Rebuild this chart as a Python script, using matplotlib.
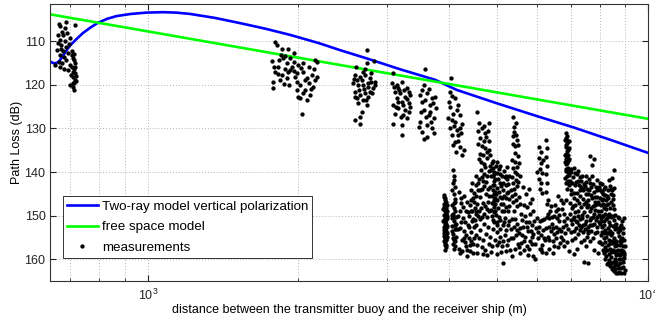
import numpy as np
import matplotlib
matplotlib.use('Agg')
import matplotlib.pyplot as plt
from matplotlib.ticker import LogLocator, NullFormatter, FixedLocator

plt.rcParams['font.family'] = ['Liberation Sans', 'DejaVu Sans']
plt.rcParams['mathtext.default'] = 'regular'
plt.rcParams['font.size'] = 9

# two-ray model (vertical polarization)
tworay_d = [638, 645, 652, 660, 668, 676, 687, 698, 719, 741, 768, 795, 830, 865, 925,
            993, 1072, 1140, 1214, 1360, 1528, 1720, 1925, 2200, 2424, 2742, 3200, 3757,
            4147, 5000, 6000, 7107, 8500, 10000]
tworay_pl = [114.7, 115.0, 115.1, 114.9, 114.3, 113.4, 112.2, 111.1, 109.6, 108.2, 106.9,
             105.8, 104.9, 104.3, 103.8, 103.5, 103.4, 103.5, 103.8, 104.7, 105.9, 107.2,
             108.6, 110.5, 112.1, 114.0, 116.5, 118.9, 121.2, 124.3, 127.2, 129.8, 132.8, 135.6]

# free space model
free_d = [638, 10000]
free_pl = [103.9, 127.8]

# measurements, lists of (distance m, path loss dB) per group of points
meas_650 = [(664, 106.1), (668, 106.6), (686, 105.6), (683, 107.1), (715, 106.3), (674, 107.9),
            (661, 108.6), (676, 108.6), (690, 108.2), (666, 109.8), (698, 109.4), (661, 110.5),
            (671, 110.9), (686, 111.3), (695, 110.7), (658, 112.1), (676, 112.4), (666, 113.2),
            (681, 113.6), (692, 112.8), (663, 114.7), (674, 115.1), (686, 114.4), (698, 115.5),
            (651, 115.5), (666, 115.9), (681, 116.3), (692, 116.6), (704, 113.2), (707, 114.0),
            (712, 114.4), (715, 115.1), (704, 115.9), (712, 116.3), (707, 117.0), (715, 117.4),
            (709, 118.2), (714, 118.9), (707, 119.7), (700, 120.1), (712, 121.1), (717, 118.0),
            (701, 117.8), (710, 113.0), (716, 116.0), (713, 119.5), (708, 120.5), (717, 119.2),
            (705, 112.2), (683, 110.0), (670, 111.8)]

meas_2000 = [(1796, 110.2), (1810, 110.8), (1852, 111.8), (1902, 111.8), (1955, 112.8), (1768, 114.6),
             (1832, 114.4), (1866, 114.0), (1926, 113.8), (1896, 115.1), (1824, 115.9), (1955, 114.7),
             (2000, 115.5), (2047, 115.1), (2095, 115.9), (2160, 114.4), (2178, 114.7), (1796, 117.0),
             (1852, 117.8), (1926, 116.6), (1986, 117.4), (2047, 117.0), (2128, 117.8), (1781, 119.3),
             (1838, 118.9), (1896, 118.5), (1986, 119.3), (2016, 120.1), (2095, 119.7), (2160, 118.9),
             (1781, 120.8), (2063, 121.2), (2111, 122.4), (2000, 122.8), (2016, 123.1), (2032, 126.6),
             (2178, 118.2), (1940, 115.9), (1881, 116.3), (2079, 118.5), (2143, 120.5), (2047, 122.0),
             (1971, 118.2), (1819, 117.6), (1911, 120.1), (1845, 113.2), (1880, 113.5), (2020, 116.2),
             (2060, 119.0), (2120, 121.0), (1905, 117.2), (1960, 116.8), (2150, 116.5), (1790, 116.0),
             (2085, 123.5), (1990, 121.3), (1870, 119.8)]

meas_2700 = [(2736, 112.1), (2714, 116.3), (2736, 115.1), (2826, 114.6), (2606, 115.9), (2594, 117.8),
             (2654, 118.2), (2714, 117.8), (2776, 118.5), (2839, 119.3), (2573, 119.7), (2634, 120.1),
             (2694, 120.1), (2755, 120.5), (2818, 120.8), (2594, 121.6), (2654, 122.4), (2714, 122.0),
             (2776, 121.6), (2614, 123.1), (2694, 123.5), (2755, 122.8), (2634, 124.3), (2736, 124.7),
             (2675, 126.2), (2654, 127.3), (2594, 128.1), (2654, 128.9), (2798, 119.3), (2675, 118.9),
             (2582, 118.7), (2798, 117.4), (2839, 120.1), (2620, 119.0), (2700, 121.0), (2760, 119.6),
             (2640, 121.2), (2805, 121.8), (2690, 117.0), (2590, 122.8), (2725, 123.6)]

meas_3200 = [(3098, 117.4), (3075, 119.7), (3147, 120.1), (3220, 119.3), (3295, 120.8), (3346, 122.4),
             (3122, 121.6), (3195, 122.0), (3269, 122.8), (3147, 123.1), (3220, 123.9), (3320, 124.3),
             (3098, 124.7), (3170, 125.4), (3269, 125.8), (3346, 125.0), (3122, 126.6), (3244, 126.9),
             (3295, 127.7), (3089, 128.9), (3220, 129.2), (3229, 131.5), (3320, 121.6), (3170, 120.8),
             (3244, 124.7), (3110, 120.5), (3180, 121.3), (3250, 121.2), (3300, 123.2), (3140, 125.0),
             (3200, 127.3), (3330, 126.3), (3160, 123.9)]

meas_3600 = [(3588, 116.4), (3560, 120.1), (3506, 122.4), (3617, 122.0), (3702, 123.1), (3534, 123.9),
             (3673, 124.7), (3760, 125.4), (3560, 125.8), (3644, 126.9), (3730, 127.7), (3506, 128.5),
             (3617, 129.2), (3702, 130.0), (3534, 130.8), (3617, 131.9), (3478, 129.6), (3730, 131.1),
             (3588, 123.5), (3673, 126.2), (3540, 121.3), (3650, 121.0), (3720, 124.3), (3590, 127.5),
             (3680, 128.5), (3520, 126.3), (3750, 122.8), (3570, 132.4)]

meas_4100 = [(4032, 118.5), (4019, 121.6), (4115, 123.1), (4178, 124.7), (4019, 125.0), (4082, 126.6),
             (4211, 126.9), (3988, 127.7), (4115, 128.5), (4244, 128.9), (4019, 130.0), (4147, 130.4),
             (4052, 131.5), (4178, 131.5), (4115, 133.1), (4211, 134.2), (4082, 133.8), (4277, 135.0),
             (4060, 122.5), (4150, 125.8), (4000, 124.0), (4090, 129.5), (4230, 131.0), (4170, 133.0),
             (4250, 136.0), (4060, 128.0), (4200, 129.8), (4130, 135.5)]

meas_far_left = [
    (3905, 145.8), (3920, 146.5), (3935, 147.2), (3915, 148.0), (3930, 148.6), (3945, 149.3),
    (3910, 149.9), (3925, 150.4), (3940, 151.0), (3920, 151.6), (3935, 152.1), (3950, 152.7),
    (3915, 153.3), (3930, 153.9), (3945, 154.5), (3925, 155.1), (3940, 155.6), (3920, 156.2),
    (3960, 150.0), (3965, 152.3), (3955, 147.5), (3900, 151.2), (3970, 154.8), (3910, 154.0),
    (3950, 156.8), (3912, 145.2), (3928, 146.0), (3942, 146.9), (3908, 147.4), (3952, 148.2),
    (3922, 148.9), (3938, 149.6), (3958, 150.6), (3913, 150.9), (3932, 151.3), (3948, 151.9),
    (3905, 152.5), (3926, 152.9), (3942, 153.5), (3960, 154.0), (3918, 154.6), (3935, 155.0),
    (3953, 155.4), (3910, 155.8), (3930, 156.6), (3945, 157.2), (3925, 157.8), (3965, 149.0),
    (3900, 148.5),
    (4080, 139.6), (4095, 140.8), (4070, 142.5), (4110, 143.5), (4085, 145.0), (4120, 146.2),
    (4060, 147.5), (4100, 148.3), (4075, 149.5), (4125, 150.3), (4090, 151.2), (4060, 152.4),
    (4110, 153.0), (4080, 154.1), (4130, 154.8), (4095, 155.6), (4070, 156.4), (4115, 157.0),
    (4140, 151.8), (4050, 150.5), (4105, 146.9), (4065, 144.0), (4100, 141.8), (4085, 147.0),
    (4115, 149.0), (4055, 153.5), (4100, 150.2), (4075, 155.2), (4120, 155.8), (4090, 157.5),
    (4135, 153.0), (4065, 149.8), (4105, 152.0),
    (4190, 144.5), (4230, 147.0), (4280, 145.5), (4350, 146.8), (4420, 144.0), (4470, 146.0),
    (4200, 149.0), (4260, 150.5), (4320, 148.8), (4390, 150.0), (4450, 149.0), (4500, 151.0),
    (4210, 152.8), (4290, 153.5), (4360, 152.0), (4430, 153.8), (4490, 152.5), (4240, 155.5),
    (4310, 156.0), (4380, 155.0), (4460, 156.5), (4180, 157.5), (4340, 157.8), (4410, 158.0),
    (4160, 150.0), (4175, 153.0), (4220, 146.0), (4250, 158.0), (4300, 151.5), (4330, 154.5),
    (4370, 149.2), (4400, 156.8), (4440, 151.2), (4480, 155.0), (4520, 149.5), (4270, 148.0),
    (4400, 147.5)]

meas_far_upper = [
    (4560, 126.2), (4600, 128.7), (4800, 128.7), (4580, 130.5), (4650, 130.0), (4720, 131.0),
    (4780, 130.6), (4620, 132.2), (4690, 132.8), (4750, 132.0), (4820, 133.0), (4570, 133.5),
    (4660, 134.0), (4730, 134.6), (4800, 134.9), (4610, 135.8), (4680, 136.2), (4760, 136.8),
    (4640, 137.8), (4710, 138.2), (4590, 136.9), (4840, 136.0), (4700, 129.5), (4770, 135.5),
    (5380, 127.5), (5400, 129.6), (5480, 132.7), (5430, 135.7), (5520, 138.0), (5340, 141.1),
    (5390, 130.8), (5450, 131.5), (5360, 133.6), (5420, 134.0), (5500, 136.4), (5350, 137.2),
    (5460, 138.9), (5410, 140.0), (5540, 140.8), (5380, 142.5), (5470, 143.2), (5330, 144.0),
    (5430, 145.0), (5520, 145.8), (5360, 146.8), (5470, 147.8), (5400, 148.8), (5560, 149.5),
    (5370, 139.0), (5440, 141.8), (5500, 142.2), (5350, 145.5), (5450, 146.5), (5540, 147.2),
    (5390, 143.8), (5480, 140.5), (5420, 137.8), (5500, 133.8), (5440, 128.8), (5365, 131.8),
    (6060, 134.2), (6100, 135.5), (6050, 136.8), (6120, 138.0), (6080, 139.2), (6140, 140.3),
    (6060, 141.5), (6110, 142.6), (6090, 143.8), (6130, 144.8), (6250, 132.7), (6270, 134.5),
    (6240, 136.5), (6290, 138.5), (6250, 140.5), (6280, 142.5), (6240, 144.5), (6300, 146.4),
    (6000, 140.0), (6180, 137.2),
    (6850, 131.0), (6880, 131.8), (6830, 132.6), (6900, 133.4), (6860, 134.2), (6920, 135.0),
    (6840, 135.8), (6890, 136.6), (6930, 137.4), (6850, 138.2), (6910, 139.0), (6870, 139.8),
    (6940, 140.6), (6820, 141.4), (6900, 142.2), (6960, 143.0), (6880, 143.8), (6960, 137.0),
    (6810, 137.8), (6950, 133.0), (6860, 132.2), (6910, 132.8), (6840, 133.8), (6880, 135.2),
    (6930, 136.0), (6870, 137.0), (6900, 138.0), (6840, 139.2), (6920, 140.0), (6890, 141.0),
    (6860, 142.4), (6930, 142.0), (6950, 139.6), (6820, 136.2), (6960, 134.5),
    (7650, 136.3), (7800, 136.9), (7720, 138.4), (8560, 139.5), (8350, 141.8), (8480, 141.4)]

meas_far_mid = [
    (4880, 138.0), (4900, 139.0), (4920, 140.0), (4890, 141.0), (4910, 142.0), (4930, 143.0),
    (4895, 144.0), (4915, 145.0), (4935, 146.0), (4900, 147.0), (4925, 148.0), (4910, 149.2),
    (4940, 141.5), (4880, 145.5), (4945, 144.5), (4905, 137.5), (4925, 146.5), (4890, 143.0),
    (4915, 140.5),
    (4430, 146.5), (4480, 144.8), (4540, 143.0), (4600, 141.5), (4650, 143.8), (4700, 140.5),
    (4750, 142.2), (4800, 139.8), (4560, 147.2), (4620, 145.8), (4680, 147.0), (4740, 145.0),
    (4790, 146.8), (4840, 143.5), (4990, 140.2), (5040, 139.3), (5100, 141.0), (5160, 139.8),
    (5220, 141.5), (5280, 140.8), (4980, 143.6), (5050, 142.5), (5120, 144.2), (5190, 143.0),
    (5260, 144.5), (5000, 146.5), (5070, 145.8), (5140, 147.2), (5210, 146.0), (5280, 147.8),
    (4860, 148.6), (4960, 149.8), (5030, 150.3), (5100, 149.0), (5180, 150.5), (4700, 149.5),
    (4580, 150.0), (4470, 150.8), (4640, 148.2), (4770, 150.2),
    (4520, 145.5), (4570, 142.5), (4610, 144.0), (4660, 141.2), (4710, 143.2), (4770, 141.0),
    (4820, 145.5), (4850, 141.0), (4860, 139.5), (4960, 138.5), (5010, 141.5), (5060, 140.5),
    (5130, 142.5), (5200, 140.8), (5250, 142.8), (4970, 145.0), (5030, 144.5), (5090, 143.2),
    (5160, 145.5), (5230, 144.8), (5020, 148.2), (5080, 147.3), (5150, 148.8), (5240, 149.0),
    (4880, 150.0), (4950, 147.2), (4720, 147.8), (4600, 148.8), (4500, 148.2), (4820, 149.0),
    (4870, 147.0), (4940, 148.8),
    (4450, 142.5), (4490, 146.8), (4530, 140.8), (4580, 144.2), (4630, 139.6), (4680, 142.0),
    (4730, 138.8), (4780, 143.8), (4830, 138.5), (5000, 137.8), (5070, 138.5), (5110, 146.0),
    (5170, 141.2), (5230, 138.8), (5270, 146.2), (4990, 151.5), (5060, 151.0), (5200, 148.0),
    (4760, 148.5), (4540, 149.0), (4660, 150.2), (4420, 148.8),
    (5620, 143.5), (5700, 145.0), (5780, 143.8), (5860, 146.2), (5650, 147.5), (5740, 148.0),
    (5820, 147.0), (5900, 148.8), (5680, 150.0), (5800, 149.5),
    (7000, 140.0), (7100, 139.0), (7200, 140.5), (7300, 141.2), (7050, 142.5), (7150, 143.0),
    (7250, 142.0), (7350, 143.5), (7450, 142.8), (7550, 143.8), (7650, 142.5), (7000, 145.0),
    (7100, 146.0), (7200, 144.8), (7300, 145.5), (7400, 146.2), (7500, 145.0), (7600, 146.5),
    (7700, 145.2), (7800, 144.5), (7900, 145.8), (8000, 144.2), (8100, 146.5), (8200, 145.2),
    (7050, 148.2), (7150, 147.5), (7250, 148.8), (7350, 148.0), (7450, 149.2), (7550, 148.0),
    (7650, 149.0), (7750, 147.8), (7850, 148.6), (7950, 147.2), (8050, 149.0), (8150, 148.2),
    (8250, 147.5), (8350, 149.5), (8450, 146.8), (8550, 148.5), (6980, 147.0), (7500, 140.8),
    (7900, 141.8), (8300, 144.0), (8100, 142.8), (8550, 143.6),
    (6980, 142.0), (7030, 139.2), (7080, 141.2), (7130, 140.2), (7180, 142.2), (7230, 139.8),
    (7280, 143.0), (7330, 142.0), (7380, 141.0), (7430, 144.2), (7480, 143.2), (7530, 142.2),
    (7580, 145.0), (7630, 144.0), (7680, 143.5), (7730, 146.0), (7780, 142.8), (7830, 145.8),
    (7880, 143.5), (7930, 146.8), (7980, 143.5), (8030, 146.0), (8080, 144.5), (8130, 147.2),
    (8180, 143.8), (8230, 146.5), (8280, 145.5), (8330, 147.2), (8380, 143.2), (8430, 145.0),
    (8480, 144.2), (8530, 146.2), (6990, 149.5), (7040, 151.8), (7090, 147.8), (7140, 149.2),
    (7190, 152.8), (7240, 150.0), (7290, 147.0), (7340, 152.5), (7390, 149.8), (7440, 147.2),
    (7490, 153.0), (7540, 150.0), (7590, 147.5), (7640, 151.0), (7690, 148.2), (7740, 152.2),
    (7790, 149.5), (7840, 146.8), (7890, 152.5), (7940, 149.0), (7990, 151.5), (8040, 147.5),
    (8090, 150.0), (8140, 146.2), (8190, 149.5), (8240, 148.5), (8290, 150.5), (8390, 148.2),
    (8440, 150.0), (8500, 147.5), (8580, 149.8),
    (7020, 144.0), (7120, 144.8), (7220, 146.5), (7320, 144.0), (7420, 143.8), (7520, 146.8),
    (7620, 141.5), (7720, 141.0), (7820, 147.5), (7920, 144.2), (8020, 142.5), (8120, 145.0),
    (8220, 143.5), (8320, 146.0), (8420, 143.8), (8520, 145.2), (7070, 150.8), (7170, 151.2),
    (7270, 152.0), (7370, 150.5), (7470, 151.8), (7570, 153.5), (7670, 152.0), (7770, 150.2),
    (7870, 151.0), (7970, 149.8), (8070, 151.2)]

meas_far_low = [
    (4200, 158.5), (4350, 159.2), (4520, 154.5), (4560, 156.8), (4620, 153.2), (4680, 155.5),
    (4720, 157.8), (4780, 152.5), (4830, 154.8), (4880, 157.0), (4930, 151.5), (4980, 153.8),
    (5030, 156.0), (5080, 158.2), (5140, 160.8), (5130, 152.2), (5180, 154.5), (5230, 156.8),
    (5280, 151.2), (5330, 153.0), (5380, 155.2), (5430, 157.5), (5480, 151.8), (5530, 154.0),
    (5580, 156.2), (5630, 152.5), (5680, 154.8), (5730, 157.0), (5780, 151.5), (5830, 153.5),
    (5860, 156.5), (5900, 159.2), (5950, 160.0), (5980, 152.8), (6030, 155.0), (6080, 157.5),
    (6130, 151.0), (6180, 153.2), (6230, 155.5), (6280, 150.3), (6330, 152.6), (6380, 149.0),
    (6430, 151.8), (6480, 154.2), (6530, 147.5), (6580, 150.5), (6630, 153.0), (6680, 156.2),
    (6730, 148.5), (6780, 151.2), (6830, 154.0), (6280, 147.2), (6350, 157.5), (6450, 158.6),
    (6600, 157.2), (5000, 158.8), (5550, 158.5), (4900, 151.0), (4620, 150.8),
    (4540, 152.0), (4590, 155.0), (4650, 157.2), (4700, 151.8), (4750, 154.2), (4800, 156.5),
    (4850, 158.2), (4900, 153.0), (4950, 155.5), (5000, 152.0), (5050, 154.8), (5100, 157.0),
    (5150, 151.5), (5200, 153.2), (5250, 155.5), (5300, 157.8), (5350, 150.8), (5400, 152.5),
    (5450, 154.5), (5500, 156.5), (5550, 152.8), (5600, 154.5), (5650, 157.8), (5700, 151.5),
    (5750, 153.5), (5800, 155.8), (5850, 152.0), (5900, 154.2), (5950, 156.5), (6000, 150.5),
    (6050, 152.5), (6100, 154.5), (6150, 156.8), (6200, 150.8), (6250, 152.8), (6300, 154.8),
    (6350, 150.5), (6400, 153.5), (6450, 155.8), (6500, 150.0), (6550, 152.5), (6600, 148.5),
    (6650, 151.2), (6700, 153.5), (6750, 155.5), (6800, 149.5), (6850, 152.2), (6900, 156.0),
    (6500, 157.0), (6150, 158.2), (5750, 159.0), (5350, 159.3), (6700, 146.5), (6400, 147.8),
    (6600, 145.5), (6850, 146.5),
    (4230, 151.5), (4280, 155.0), (4330, 157.0), (4380, 152.5), (4430, 155.8), (4470, 158.5),
    (4560, 158.5), (4680, 158.8), (4760, 159.0), (4980, 156.8), (5060, 153.0), (5120, 155.8),
    (5190, 158.0), (5260, 152.2), (5320, 155.0), (5420, 150.8), (5470, 153.2), (5520, 157.2),
    (5610, 151.0), (5660, 155.8), (5720, 152.5), (5790, 157.5), (5870, 154.8), (5920, 151.2),
    (6020, 153.8), (6070, 151.2), (6120, 157.5), (6200, 155.0), (6260, 158.5), (6330, 155.5),
    (6420, 150.2), (6470, 152.8), (6540, 155.2), (6590, 153.8), (6640, 149.8), (6690, 154.8),
    (6760, 152.5), (6790, 157.0), (6880, 150.5), (6920, 153.0), (6300, 149.5), (6560, 148.8),
    (6760, 147.0),
    (7000, 151.0), (7100, 150.2), (7200, 151.5), (7300, 150.8), (7400, 152.0), (7500, 151.2),
    (7600, 152.5), (7700, 150.6), (7800, 151.8), (7900, 150.2), (7100, 153.5), (7250, 154.2),
    (7400, 153.8), (7550, 154.8), (7700, 153.5), (7850, 154.0), (7050, 155.5), (7350, 156.0),
    (7650, 155.8), (7450, 160.5), (7600, 160.9), (7800, 157.8), (7950, 158.5), (7200, 157.5),
    (6950, 158.0), (7100, 158.8), (7150, 155.0), (7300, 153.2), (7450, 155.5), (7600, 154.0),
    (7750, 155.0), (7900, 153.8), (7980, 156.0), (7020, 153.8), (7500, 157.0)]

meas_far_right = [
    (8050, 150.5), (8150, 151.2), (8250, 150.8), (8350, 151.5), (8450, 150.3), (8550, 151.0),
    (8650, 151.8), (8750, 150.6), (8850, 152.0), (8100, 152.5), (8200, 153.2), (8300, 152.8),
    (8400, 153.5), (8500, 152.3), (8600, 153.0), (8700, 153.8), (8800, 152.6), (8900, 154.0),
    (8050, 154.5), (8150, 155.2), (8250, 154.8), (8350, 155.5), (8450, 154.3), (8550, 155.0),
    (8650, 155.8), (8750, 154.6), (8850, 156.0), (8950, 155.5), (8100, 156.5), (8200, 157.2),
    (8300, 156.8), (8400, 157.5), (8500, 156.3), (8600, 157.0), (8700, 157.8), (8800, 156.6),
    (8900, 158.0), (8980, 157.0), (8150, 158.5), (8250, 159.2), (8350, 158.8), (8450, 159.5),
    (8550, 158.3), (8650, 159.0), (8750, 159.8), (8850, 158.6), (8950, 159.6), (8300, 160.8),
    (8400, 161.5), (8500, 160.5), (8600, 161.2), (8700, 162.0), (8800, 160.8), (8900, 161.8),
    (8980, 162.5), (8650, 163.0), (8850, 163.2), (8550, 162.6),
    (8000, 151.8), (8080, 153.8), (8120, 150.0), (8180, 152.0), (8220, 155.9), (8280, 153.9),
    (8320, 150.1), (8380, 152.2), (8420, 156.2), (8480, 153.9), (8520, 150.1), (8580, 152.0),
    (8620, 156.0), (8680, 152.9), (8720, 150.3), (8780, 153.3), (8820, 155.3), (8880, 151.2),
    (8920, 152.8), (8960, 150.5), (8020, 156.0), (8120, 157.8), (8180, 154.0), (8220, 158.0),
    (8280, 157.8), (8320, 154.0), (8380, 156.2), (8420, 158.2), (8480, 155.8), (8520, 157.8),
    (8580, 156.0), (8620, 158.0), (8680, 156.8), (8720, 158.8), (8780, 155.8), (8820, 157.8),
    (8880, 155.0), (8920, 157.0), (8970, 158.5), (8200, 160.0), (8280, 161.0), (8360, 160.2),
    (8440, 160.8), (8520, 161.8), (8580, 159.8), (8640, 160.5), (8720, 161.2), (8760, 162.8),
    (8840, 162.0), (8920, 160.5), (8960, 163.0), (8700, 163.2), (8600, 162.2), (8480, 162.2),
    (8940, 159.0), (8870, 160.0), (8780, 159.0)]


def main():
    groups = [meas_650, meas_2000, meas_2700, meas_3200, meas_3600, meas_4100,
              meas_far_left, meas_far_upper, meas_far_mid, meas_far_low, meas_far_right]
    meas = np.array([p for g in groups for p in g])

    fig = plt.figure(figsize=(6.55, 3.22), dpi=100)
    ax = fig.add_axes([0.0768, 0.1264, 0.9125, 0.8602])

    ax.plot(tworay_d, tworay_pl, color='#0000ff', lw=1.9, label='Two-ray model vertical polarization')
    ax.plot(free_d, free_pl, color='#00ff00', lw=1.9, label='free space model')
    ax.plot(meas[:, 0], meas[:, 1], 'k.', ms=4.2, label='measurements')

    ax.set_xscale('log')
    ax.set_xlim(638, 10000)
    ax.set_ylim(165, 101.6)
    ax.set_yticks([110, 120, 130, 140, 150, 160])
    ax.xaxis.set_major_locator(FixedLocator([1000, 10000]))
    ax.xaxis.set_minor_locator(LogLocator(base=10, subs=np.arange(2, 10)))
    ax.xaxis.set_minor_formatter(NullFormatter())

    ax.grid(True, which='both', color='#b4b4b4', linestyle=(0, (1, 2)), lw=0.7)
    ax.tick_params(which='both', direction='in', top=True, right=True, colors='#222222')
    ax.tick_params(which='major', length=4.5)
    ax.tick_params(which='minor', length=2.5)
    ax.tick_params(axis='x', pad=5)
    for s in ax.spines.values():
        s.set_color('#333333')
        s.set_linewidth(0.8)

    ax.set_xlabel('distance between the transmitter buoy and the receiver ship (m)')
    ax.set_ylabel('Path Loss (dB)')
    ax.xaxis.set_label_coords(0.5, -0.083)
    ax.yaxis.set_label_coords(-0.046, 0.5)

    leg = ax.legend(loc='lower left', bbox_to_anchor=(0.021, 0.084), borderaxespad=0,
                    numpoints=1, handlelength=2.3, handletextpad=0.3, labelspacing=0.6,
                    borderpad=0.32, fancybox=False, framealpha=1, edgecolor='#333333',
                    prop={'size': 9.6})
    leg.get_frame().set_linewidth(0.7)

    fig.savefig('out.png', dpi=100)


if __name__ == '__main__':
    main()
